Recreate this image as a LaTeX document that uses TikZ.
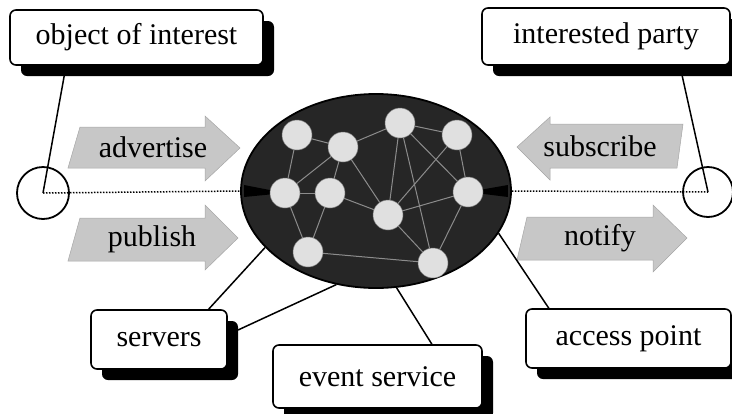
\documentclass[tikz,border=0pt]{standalone}
\usepackage{fontspec}
\setmainfont{Liberation Serif}
\usetikzlibrary{shapes.geometric,shadows}
\begin{document}
\begin{tikzpicture}[x=1pt,y=-1pt,
  txt/.style={font=\fontsize{30}{33}\selectfont,inner sep=0pt},
  lbl/.style={rectangle,rounded corners=6pt,draw,line width=1.6pt,fill=white,
    font=\fontsize{30}{33}\selectfont,inner sep=0pt,
    drop shadow={shadow xshift=11pt,shadow yshift=-11pt,opacity=1,fill=black}},
  flow/.style={fill=black!22,draw=black!35,line width=0.5pt},
  srv/.style={circle,fill=black!12,draw=black!50,line width=0.5pt,minimum size=30pt,inner sep=0pt},
  net/.style={draw=black!45,line width=1pt},
  conn/.style={line width=1.5pt},
  dots/.style={line width=1.5pt,dash pattern=on 1.5pt off 1.5pt},
  endc/.style={circle,draw,line width=1.8pt,minimum size=52pt,inner sep=0pt}]
\useasboundingbox (0,0) rectangle (732,413);
\clip (0,0) rectangle (732,413);
% flow arrows
\fill[flow] (80,127) -- (205,127) -- (205,116) -- (240,148) -- (205,181) -- (205,168) -- (68,168) -- cycle;
\fill[flow] (80,218) -- (205,218) -- (205,205) -- (238,238) -- (205,270) -- (205,261) -- (68,261) -- cycle;
\fill[flow] (517,147) -- (550,117) -- (550,124) -- (683,124) -- (677,168) -- (550,168) -- (550,180) -- cycle;
\fill[flow] (527,217) -- (653,217) -- (653,205) -- (687,238) -- (653,272) -- (653,260) -- (517,260) -- cycle;
\node[txt] (adv) at (153,147) {advertise};
\node[txt] (pub) at (152,239) {publish};
\node[txt] (sub) at (600,146) {subscribe};
\node[txt] (ntf) at (600,238) {notify};
% event service ellipse
\node[ellipse,minimum width=270pt,minimum height=194pt,inner sep=0pt,fill=black!85,draw,line width=1.8pt] (E) at (376,191) {};
% network
\coordinate (p1) at (297,135);
\coordinate (p2) at (343,147);
\coordinate (p3) at (400,123);
\coordinate (p4) at (457,135);
\coordinate (p5) at (285,193);
\coordinate (p6) at (330,193);
\coordinate (p7) at (388,215);
\coordinate (p8) at (468,192);
\coordinate (p9) at (308,252);
\coordinate (p10) at (433,263);
\foreach \a/\b in {p1/p2,p1/p5,p2/p3,p2/p6,p2/p5,p2/p7,p3/p4,p3/p7,p3/p10,p3/p8,p4/p8,p5/p6,p5/p9,p6/p9,p6/p7,p7/p10,p8/p10,p9/p10,p7/p8,p4/p7}
  \draw[net] (\a) -- (\b);
\fill[black] (E.west) ++(4,-6) -- ++(0,12) -- (p5) -- cycle;
\fill[black] (E.east) ++(-4,-6) -- ++(0,12) -- (p8) -- cycle;
\foreach \p in {1,...,10}
  \node[srv] (s\p) at (p\p) {};
% end circles
\node[endc] (L) at (43,193) {};
\node[endc,minimum size=50pt] (R) at (708,192) {};
\draw[dots] (L.center) -- (E.west);
\draw[dots] (E.east) -- (R.center);
% connectors
\coordinate (objA) at (66,66);
\coordinate (intA) at (680,66);
\coordinate (srvA) at (207,311);
\coordinate (srvB) at (238,330);
\coordinate (evtA) at (433,346);
\coordinate (accA) at (550,310);
\draw[conn] (objA) -- (L.center);
\draw[conn] (intA) -- (R.center);
\draw[conn] (srvA) -- (E.207);
\draw[conn] (srvB) -- (E.247);
\draw[conn] (evtA) -- (E.282);
\draw[conn] (accA) -- (E.341);
% label boxes
\node[lbl,minimum width=253pt,minimum height=55pt] (obj) at (136.5,37.5) {object of interest};
\node[lbl,minimum width=248pt,minimum height=57pt] (int) at (606,36.5) {interested party};
\node[lbl,minimum width=136pt,minimum height=59pt] (srvs) at (159,339.5) {servers};
\node[lbl,minimum width=209pt,minimum height=63pt] (evt) at (377.5,376.5) {event service};
\node[lbl,minimum width=205pt,minimum height=59pt] (acc) at (628.5,338.5) {access point};
\end{tikzpicture}
\end{document}
